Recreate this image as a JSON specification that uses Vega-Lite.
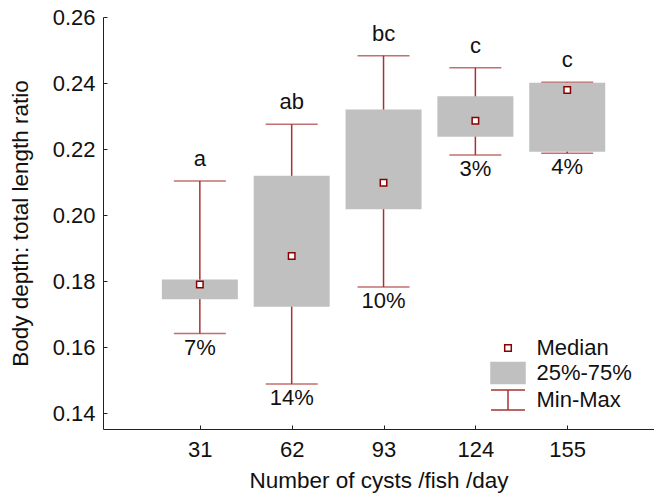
{
  "$schema": "https://vega.github.io/schema/vega-lite/v6.json",
  "autosize": "none",
  "width": 551,
  "height": 412,
  "padding": {"left": 103, "top": 17, "right": 0, "bottom": 68},
  "background": "white",
  "config": {
    "view": {"stroke": null},
    "font": "Liberation Sans",
    "axis": {
      "grid": false,
      "domainColor": "#222",
      "tickColor": "#222",
      "labelColor": "#111",
      "titleColor": "#111",
      "labelFont": "Liberation Sans",
      "titleFont": "Liberation Sans",
      "labelFontSize": 22,
      "titleFontSize": 22.5,
      "titleFontWeight": "normal"
    }
  },
  "datasets": {
    "stats": [
      {"n": 31, "min": 0.1641, "q1": 0.1745, "median": 0.1790, "q3": 0.1805, "max": 0.2103, "letter": "a", "cv": "7%"},
      {"n": 62, "min": 0.1488, "q1": 0.1722, "median": 0.1876, "q3": 0.2119, "max": 0.2275, "letter": "ab", "cv": "14%"},
      {"n": 93, "min": 0.1782, "q1": 0.2018, "median": 0.2098, "q3": 0.2320, "max": 0.2483, "letter": "bc", "cv": "10%"},
      {"n": 124, "min": 0.2182, "q1": 0.2237, "median": 0.2286, "q3": 0.2360, "max": 0.2446, "letter": "c", "cv": "3%"},
      {"n": 155, "min": 0.2187, "q1": 0.2192, "median": 0.2379, "q3": 0.2401, "max": 0.2402, "letter": "c", "cv": "4%"}
    ],
    "legendItems": [
      {"item": "Median"},
      {"item": "25%-75%"},
      {"item": "Min-Max"}
    ]
  },
  "encoding": {
    "x": {
      "field": "n",
      "type": "quantitative",
      "scale": {"domain": [0, 182.6], "nice": false, "zero": false},
      "axis": {
        "values": [31, 62, 93, 124, 155],
        "title": "Number of cysts /fish /day",
        "tickSize": -4,
        "labelPadding": 14,
        "titlePadding": 9
      }
    }
  },
  "layer": [
    {
      "data": {"name": "stats"},
      "mark": {"type": "rule", "color": "#a83232", "strokeWidth": 1.5},
      "encoding": {
        "y": {
          "field": "min",
          "type": "quantitative",
          "scale": {"domain": [0.1352, 0.26], "nice": false, "zero": false},
          "axis": {
            "values": [0.14, 0.16, 0.18, 0.2, 0.22, 0.24, 0.26],
            "format": ".2f",
            "title": "Body depth: total length ratio",
            "tickSize": -4,
            "labelPadding": 12,
            "titlePadding": 20
          }
        },
        "y2": {"field": "max"}
      }
    },
    {
      "data": {"name": "stats"},
      "mark": {"type": "tick", "orient": "horizontal", "color": "#a83232", "size": 52, "thickness": 1.5},
      "encoding": {"y": {"field": "min", "type": "quantitative"}}
    },
    {
      "data": {"name": "stats"},
      "mark": {"type": "tick", "orient": "horizontal", "color": "#a83232", "size": 52, "thickness": 1.5},
      "encoding": {"y": {"field": "max", "type": "quantitative"}}
    },
    {
      "data": {"name": "stats"},
      "mark": {"type": "bar", "color": "#c0c0c0", "size": 76},
      "encoding": {
        "y": {"field": "q1", "type": "quantitative"},
        "y2": {"field": "q3"}
      }
    },
    {
      "data": {"name": "stats"},
      "mark": {"type": "point", "shape": "square", "filled": true, "fill": "white", "stroke": "#8b0000", "strokeWidth": 1.5, "size": 42, "opacity": 1},
      "encoding": {"y": {"field": "median", "type": "quantitative"}}
    },
    {
      "data": {"name": "stats"},
      "mark": {"type": "text", "fontSize": 22, "baseline": "alphabetic", "dy": -15, "color": "#111"},
      "encoding": {
        "y": {"field": "max", "type": "quantitative"},
        "text": {"field": "letter"}
      }
    },
    {
      "data": {"name": "stats"},
      "mark": {"type": "text", "fontSize": 22, "baseline": "top", "dy": 4, "color": "#111"},
      "encoding": {
        "y": {"field": "min", "type": "quantitative"},
        "text": {"field": "cv"}
      }
    },
    {
      "data": {"name": "legendItems"},
      "mark": {"type": "point", "opacity": 0, "strokeWidth": 1.5},
      "encoding": {
        "fill": {
          "field": "item",
          "type": "nominal",
          "scale": {"domain": ["Median", "25%-75%", "Min-Max"], "range": ["#ffffff", "#c0c0c0", "transparent"]},
          "legend": {
            "title": null,
            "orient": "none",
            "legendX": 394,
            "legendY": 320,
            "padding": 0,
            "symbolSize": 400,
            "symbolStrokeWidth": 1.5,
            "symbolOpacity": 1,
            "labelFontSize": 22,
            "labelFont": "Liberation Sans",
            "labelColor": "#111",
            "labelOffset": 17.5,
            "rowPadding": 0
          }
        },
        "stroke": {
          "field": "item",
          "type": "nominal",
          "scale": {"domain": ["Median", "25%-75%", "Min-Max"], "range": ["#8b0000", "#c0c0c0", "#a83232"]},
          "legend": {
            "title": null,
            "orient": "none",
            "legendX": 394,
            "legendY": 320,
            "padding": 0,
            "symbolSize": 400,
            "symbolStrokeWidth": 1.5,
            "symbolOpacity": 1,
            "labelFontSize": 22,
            "labelFont": "Liberation Sans",
            "labelColor": "#111",
            "labelOffset": 17.5,
            "rowPadding": 0
          }
        },
        "shape": {
          "field": "item",
          "type": "nominal",
          "scale": {"domain": ["Median", "25%-75%", "Min-Max"], "range": ["M-0.33,-0.33H0.33V0.33H-0.33Z", "M-1.7,-1.04H1.7V1.04H-1.7Z", "M-1.7,-1H1.7M0,-1V1M-1.7,1H1.7"]},
          "legend": {
            "title": null,
            "orient": "none",
            "legendX": 394,
            "legendY": 320,
            "padding": 0,
            "symbolSize": 400,
            "symbolStrokeWidth": 1.5,
            "symbolOpacity": 1,
            "labelFontSize": 22,
            "labelFont": "Liberation Sans",
            "labelColor": "#111",
            "labelOffset": 17.5,
            "rowPadding": 0
          }
        }
      }
    }
  ]
}
